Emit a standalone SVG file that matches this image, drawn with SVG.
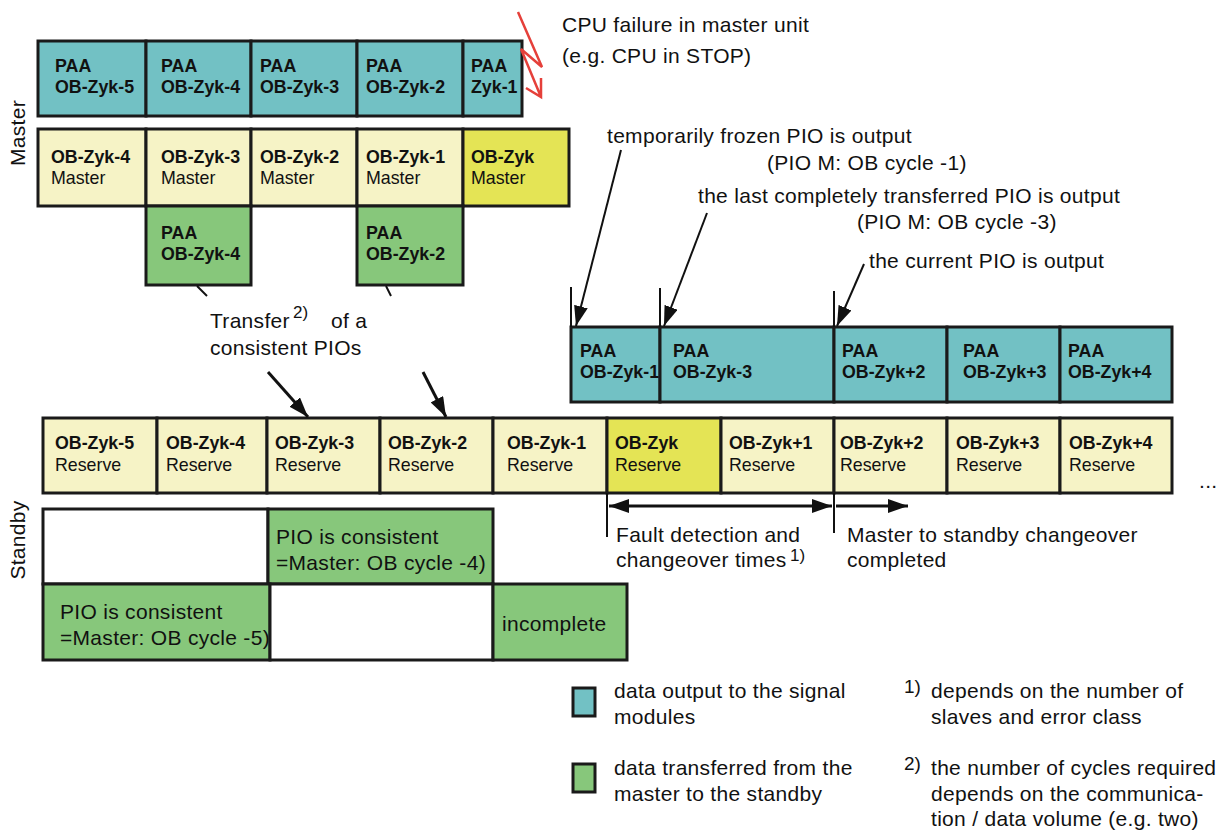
<svg xmlns="http://www.w3.org/2000/svg" width="1216" height="830" viewBox="0 0 1216 830">
  <style>
    .box { stroke: #1a1a1a; stroke-width: 3; }
    .paa { fill: #72c1c4; }
    .cyc { fill: #f6f3c6; }
    .cur { fill: #e4e455; }
    .trn { fill: #87c77b; }
    .wht { fill: #ffffff; }
    .b { font-family: "Liberation Sans", Arial, sans-serif; font-size: 17.8px; font-weight: bold; fill: #111; }
    .n { font-family: "Liberation Sans", Arial, sans-serif; font-size: 17.8px; fill: #111; }
    .lbl { font-family: "Liberation Sans", Arial, sans-serif; font-size: 21px; letter-spacing: 0.3px; fill: #111; }
    .sup { font-family: "Liberation Sans", Arial, sans-serif; font-size: 17px; fill: #111; }
    .fn { font-family: "Liberation Sans", Arial, sans-serif; font-size: 19px; fill: #111; }
    .ln { stroke: #111; stroke-width: 3; fill: none; }
    .thin { stroke: #111; stroke-width: 2; fill: none; }
  </style>
  <defs>
    <marker id="head" viewBox="0 0 20 14" refX="20" refY="7" markerWidth="20" markerHeight="14" markerUnits="userSpaceOnUse" orient="auto-start-reverse">
      <path d="M0,0 L20,7 L0,14 Z" fill="#111"/>
    </marker>
  </defs>

  <rect width="1216" height="830" fill="#ffffff"/>

  <!-- side labels -->
  <text class="lbl" transform="translate(25,133) rotate(-90)" text-anchor="middle">Master</text>
  <text class="lbl" transform="translate(25,540) rotate(-90)" text-anchor="middle">Standby</text>

  <!-- master: outputs -->
  <g id="m-paa-5"><rect class="box paa" x="38" y="41" width="108" height="75"/><text class="b" x="55" y="72">PAA</text><text class="b" x="55" y="93">OB-Zyk-5</text></g>
  <g id="m-paa-4"><rect class="box paa" x="146" y="41" width="105" height="75"/><text class="b" x="161" y="72">PAA</text><text class="b" x="161" y="93">OB-Zyk-4</text></g>
  <g id="m-paa-3"><rect class="box paa" x="251" y="41" width="106" height="75"/><text class="b" x="260" y="72">PAA</text><text class="b" x="260" y="93">OB-Zyk-3</text></g>
  <g id="m-paa-2"><rect class="box paa" x="357" y="41" width="106" height="75"/><text class="b" x="366" y="72">PAA</text><text class="b" x="366" y="93">OB-Zyk-2</text></g>
  <g id="m-paa-1"><rect class="box paa" x="463" y="41" width="59" height="75"/><text class="b" x="471" y="72">PAA</text><text class="b" x="471" y="93">Zyk-1</text></g>

  <!-- master: OB cycles -->
  <g id="m-cyc-4"><rect class="box cyc" x="38" y="129" width="108" height="77"/><text class="b" x="51" y="163">OB-Zyk-4</text><text class="n" x="51" y="184">Master</text></g>
  <g id="m-cyc-3"><rect class="box cyc" x="146" y="129" width="105" height="77"/><text class="b" x="161" y="163">OB-Zyk-3</text><text class="n" x="161" y="184">Master</text></g>
  <g id="m-cyc-2"><rect class="box cyc" x="251" y="129" width="106" height="77"/><text class="b" x="260" y="163">OB-Zyk-2</text><text class="n" x="260" y="184">Master</text></g>
  <g id="m-cyc-1"><rect class="box cyc" x="357" y="129" width="106" height="77"/><text class="b" x="366" y="163">OB-Zyk-1</text><text class="n" x="366" y="184">Master</text></g>
  <g id="m-cyc-0"><rect class="box cur" x="463" y="129" width="106" height="77"/><text class="b" x="471" y="163">OB-Zyk</text><text class="n" x="471" y="184">Master</text></g>

  <!-- master: transferred PIOs -->
  <g id="m-trn-4"><rect class="box trn" x="146" y="206" width="105" height="79"/><text class="b" x="161" y="239">PAA</text><text class="b" x="161" y="260">OB-Zyk-4</text></g>
  <g id="m-trn-2"><rect class="box trn" x="357" y="206" width="106" height="79"/><text class="b" x="366" y="239">PAA</text><text class="b" x="366" y="260">OB-Zyk-2</text></g>

  <!-- CPU failure note -->
  <g id="cpu-failure">
    <path d="M518,12 L542,67 L521,49 L541,97 M541,78 L541,97 L526,88" stroke="#e5403a" stroke-width="2.5" fill="none" stroke-linejoin="miter"/>
    <text class="lbl" x="562" y="32">CPU failure in master unit</text>
    <text class="lbl" x="562" y="63">(e.g. CPU in STOP)</text>
  </g>

  <!-- standby: outputs after changeover -->
  <g id="s-paa-1"><rect class="box paa" x="571" y="327" width="89" height="75"/><text class="b" x="580" y="357">PAA</text><text class="b" x="580" y="378">OB-Zyk-1</text></g>
  <g id="s-paa-3"><rect class="box paa" x="660" y="327" width="174" height="75"/><text class="b" x="673" y="357">PAA</text><text class="b" x="673" y="378">OB-Zyk-3</text></g>
  <g id="s-paa+2"><rect class="box paa" x="834" y="327" width="113" height="75"/><text class="b" x="842" y="357">PAA</text><text class="b" x="842" y="378">OB-Zyk+2</text></g>
  <g id="s-paa+3"><rect class="box paa" x="947" y="327" width="113" height="75"/><text class="b" x="963" y="357">PAA</text><text class="b" x="963" y="378">OB-Zyk+3</text></g>
  <g id="s-paa+4"><rect class="box paa" x="1060" y="327" width="112" height="75"/><text class="b" x="1068" y="357">PAA</text><text class="b" x="1068" y="378">OB-Zyk+4</text></g>

  <!-- standby: OB cycles -->
  <g id="s-cyc-5"><rect class="box cyc" x="43" y="418" width="114" height="75"/><text class="b" x="55" y="449">OB-Zyk-5</text><text class="n" x="55" y="471">Reserve</text></g>
  <g id="s-cyc-4"><rect class="box cyc" x="157" y="418" width="110" height="75"/><text class="b" x="166" y="449">OB-Zyk-4</text><text class="n" x="166" y="471">Reserve</text></g>
  <g id="s-cyc-3"><rect class="box cyc" x="267" y="418" width="113" height="75"/><text class="b" x="275" y="449">OB-Zyk-3</text><text class="n" x="275" y="471">Reserve</text></g>
  <g id="s-cyc-2"><rect class="box cyc" x="380" y="418" width="113" height="75"/><text class="b" x="388" y="449">OB-Zyk-2</text><text class="n" x="388" y="471">Reserve</text></g>
  <g id="s-cyc-1"><rect class="box cyc" x="493" y="418" width="114" height="75"/><text class="b" x="507" y="449">OB-Zyk-1</text><text class="n" x="507" y="471">Reserve</text></g>
  <g id="s-cyc-0"><rect class="box cur" x="607" y="418" width="114" height="75"/><text class="b" x="615" y="449">OB-Zyk</text><text class="n" x="615" y="471">Reserve</text></g>
  <g id="s-cyc+1"><rect class="box cyc" x="721" y="418" width="113" height="75"/><text class="b" x="729" y="449">OB-Zyk+1</text><text class="n" x="729" y="471">Reserve</text></g>
  <g id="s-cyc+2"><rect class="box cyc" x="834" y="418" width="113" height="75"/><text class="b" x="840" y="449">OB-Zyk+2</text><text class="n" x="840" y="471">Reserve</text></g>
  <g id="s-cyc+3"><rect class="box cyc" x="947" y="418" width="113" height="75"/><text class="b" x="956" y="449">OB-Zyk+3</text><text class="n" x="956" y="471">Reserve</text></g>
  <g id="s-cyc+4"><rect class="box cyc" x="1060" y="418" width="112" height="75"/><text class="b" x="1069" y="449">OB-Zyk+4</text><text class="n" x="1069" y="471">Reserve</text></g>
  <text class="lbl" x="1199" y="488">...</text>

  <!-- standby: PIO consistency -->
  <g id="s-pio-a"><rect class="box wht" x="43" y="509" width="225" height="75"/></g>
  <g id="s-pio-b"><rect class="box trn" x="268" y="509" width="225" height="75"/><text class="lbl" x="276" y="544">PIO is consistent</text><text class="lbl" x="276" y="570">=Master: OB cycle -4)</text></g>
  <g id="s-pio-c"><rect class="box trn" x="43" y="584" width="227" height="76"/><text class="lbl" x="60" y="619">PIO is consistent</text><text class="lbl" x="60" y="645">=Master: OB cycle -5)</text></g>
  <g id="s-pio-d"><rect class="box wht" x="270" y="584" width="223" height="76"/></g>
  <g id="s-pio-e"><rect class="box trn" x="493" y="584" width="134" height="76"/><text class="lbl" x="502" y="631">incomplete</text></g>

  <!-- connectors -->
  <g id="connectors">
    <!-- transfer of consistent PIOs -->
    <line class="thin" x1="197" y1="286" x2="207" y2="296"/>
    <line class="thin" x1="386" y1="286" x2="391" y2="296"/>
    <line class="ln" x1="268" y1="372" x2="308" y2="417" marker-end="url(#head)"/>
    <line class="ln" x1="423" y1="372" x2="446" y2="417" marker-end="url(#head)"/>
    <!-- output pointers -->
    <line class="thin" x1="571" y1="287" x2="571" y2="327"/>
    <line class="thin" x1="660" y1="288" x2="660" y2="327"/>
    <line class="thin" x1="834" y1="291" x2="834" y2="327"/>
    <line class="thin" x1="621" y1="150" x2="576" y2="326" marker-end="url(#head)"/>
    <line class="thin" x1="707" y1="213" x2="664" y2="326" marker-end="url(#head)"/>
    <line class="thin" x1="864" y1="264" x2="837" y2="326" marker-end="url(#head)"/>
    <!-- changeover times -->
    <line class="thin" x1="607" y1="493" x2="607" y2="537"/>
    <line class="thin" x1="834" y1="493" x2="834" y2="533"/>
    <line class="ln" x1="609" y1="506" x2="832" y2="506" marker-start="url(#head)" marker-end="url(#head)"/>
    <line class="ln" x1="836" y1="506" x2="908" y2="506" marker-end="url(#head)"/>
  </g>

  <!-- annotations -->
  <text class="lbl" x="210" y="328">Transfer</text>
  <text class="sup" x="293" y="318">2)</text>
  <text class="lbl" x="331" y="328">of a</text>
  <text class="lbl" x="210" y="355">consistent PIOs</text>

  <text class="lbl" x="607" y="143">temporarily frozen PIO is output</text>
  <text class="lbl" x="767" y="170">(PIO M: OB cycle -1)</text>
  <text class="lbl" x="698" y="203">the last completely transferred PIO is output</text>
  <text class="lbl" x="857" y="229">(PIO M: OB cycle -3)</text>
  <text class="lbl" x="869" y="268">the current PIO is output</text>

  <text class="lbl" x="616" y="542">Fault detection and</text>
  <text class="lbl" x="616" y="567">changeover times</text>
  <text class="sup" x="790" y="561" font-size="16">1)</text>
  <text class="lbl" x="847" y="542">Master to standby changeover</text>
  <text class="lbl" x="847" y="567">completed</text>

  <!-- legend -->
  <g id="legend-output"><rect class="box paa" x="573" y="688" width="22" height="28"/><text class="lbl" x="614" y="698">data output to the signal</text><text class="lbl" x="614" y="724">modules</text></g>
  <g id="legend-transfer"><rect class="box trn" x="573" y="764" width="22" height="28"/><text class="lbl" x="614" y="775">data transferred from the</text><text class="lbl" x="614" y="801">master to the standby</text></g>
  <g id="note-1"><text class="fn" x="904" y="693">1)</text><text class="lbl" x="931" y="698">depends on the number of</text><text class="lbl" x="931" y="724">slaves and error class</text></g>
  <g id="note-2"><text class="fn" x="904" y="770">2)</text><text class="lbl" x="931" y="775">the number of cycles required</text><text class="lbl" x="931" y="801">depends on the communica-</text><text class="lbl" x="931" y="826">tion / data volume (e.g. two)</text></g>
</svg>
